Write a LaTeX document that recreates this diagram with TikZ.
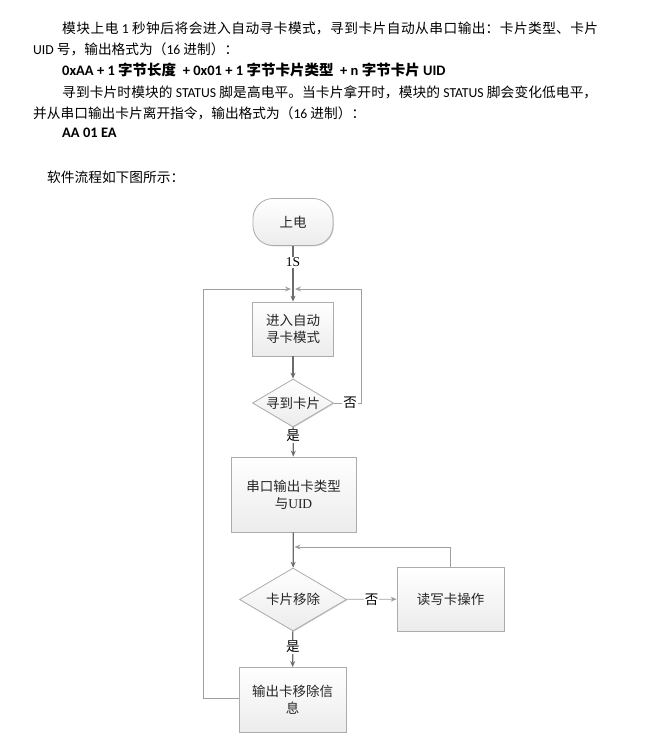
\documentclass[tikz,border=0pt]{standalone}
\usepackage{fontspec}
\setmainfont{Noto Sans CJK SC}
\newfontfamily\enfont{Carlito}
\newfontfamily\sefont{Liberation Serif}
\newcommand{\en}[1]{{\enfont #1}}
\usetikzlibrary{arrows.meta,shapes.geometric,shadows}
\XeTeXlinebreaklocale "zh"
\XeTeXlinebreakskip=0pt plus 3pt

\begin{document}
\begin{tikzpicture}[x=1pt,y=-1pt,>={Stealth[length=6pt,width=5pt]},
  line/.style={draw=gray!85!black,line width=1.3pt},
  loop/.style={draw=gray!75,line width=.8pt},
  para/.style={anchor=west,inner sep=0pt,font=\fontsize{13.7}{16}\selectfont},
  bold/.style={para,font=\fontsize{14.5}{16}\selectfont\bfseries},
  block/.style={draw=gray!65,line width=.8pt,top color=white,bottom color=gray!15,
    drop shadow={shadow xshift=.8pt,shadow yshift=-.8pt,fill=gray!60,opacity=.6},
    text=black!85,font=\fontsize{13.5}{17}\selectfont,align=center,inner sep=0pt},
  decision/.style={block,diamond,aspect=1.7},
  tag/.style={fill=white,inner sep=1pt,font=\fontsize{13.5}{16}\selectfont}]
\useasboundingbox (0,0) rectangle (656,738);

\node[para,text width=536pt,align=justify] (l1) at (62,28)
  {\parfillskip=0pt 模块上电 \en{1} 秒钟后将会进入自动寻卡模式，寻到卡片自动从串口输出：卡片类型、卡片\hspace{0pt plus -1fil}\null};
\node[para] (l2) at (33,49) {\en{UID} 号，输出格式为（\en{16} 进制）：};
\node[bold] (l3) at (62,70)
  {\en{0xAA + 1} 字节长度 \ \en{+ 0x01 + 1} 字节卡片类型 \ \en{+ n} 字节卡片 \en{UID}};
\node[para,text width=535pt,align=justify] (l4) at (62,92)
  {\parfillskip=0pt 寻到卡片时模块的 \en{STATUS} 脚是高电平。当卡片拿开时，模块的 \en{STATUS} 脚会变化低电平，\hspace{0pt plus -1fil}\null};
\node[para] (l5) at (33,113) {并从串口输出卡片离开指令，输出格式为（\en{16} 进制）：};
\node[bold] (l6) at (62,133) {\en{AA 01 EA}};
\node[para] (l7) at (47,177) {软件流程如下图所示：};

\node[block,rounded corners=20pt,minimum width=80pt,minimum height=47pt] (power) at (293,222) {上电};
\node[block,minimum width=81pt,minimum height=54pt] (search) at (293,329) {进入自动\\寻卡模式};
\node[decision,minimum width=81pt,minimum height=48pt] (found) at (293,403) {寻到卡片};
\node[block,minimum width=125pt,minimum height=75pt] (output) at (293.5,494.5) {串口输出卡类型\\与{\sefont UID}};
\node[decision,minimum width=107pt,minimum height=63pt] (removed) at (293,599.5) {卡片移除};
\node[block,minimum width=107pt,minimum height=64pt] (rw) at (450.5,599) {读写卡操作};
\node[block,minimum width=107pt,minimum height=65pt] (notify) at (292.5,700) {输出卡移除信\\息};

\coordinate (j1) at (293,289);
\coordinate (j2) at (293,547);

\draw[line,->] (power)--(search) node[pos=.29,tag] {\sefont 1S};
\draw[line,->] (search)--(found);
\draw[line,->] (found)--(output) node[pos=.3,tag] {是};
\draw[line,->] (output)--(removed);
\draw[line,->] (removed)--(notify) node[pos=.43,tag] {是};
\draw[loop,->] (removed)--(rw) node[midway,tag] {否};

\draw[loop,->,shorten >=2pt] (found.east)--(361,403) node[pos=.6,tag] {否} |- (j1);
\draw[loop,->,shorten >=2pt] (notify.west|-0,698)--(203,698) |- (j1);
\draw[loop,->,shorten >=1.5pt] (rw.north)|-(j2);

\end{tikzpicture}
\end{document}
